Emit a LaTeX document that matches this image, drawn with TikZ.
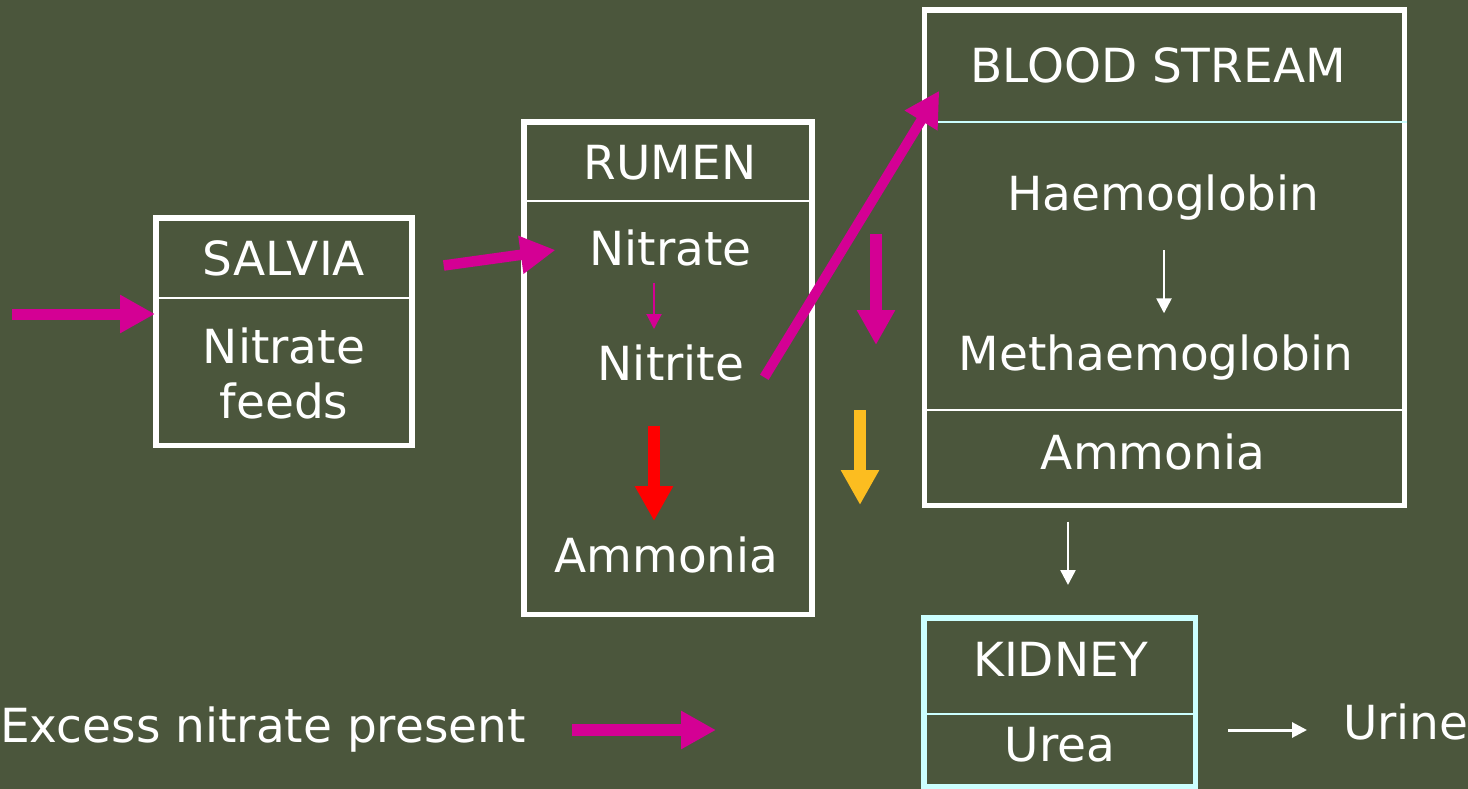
\documentclass[tikz,border=0pt]{standalone}
\usepackage{fontspec}
\setmainfont{DejaVu Sans}
\usetikzlibrary{arrows.meta}
\definecolor{bg}{RGB}{75,86,60}
\definecolor{mag}{RGB}{212,0,148}
\definecolor{yel}{RGB}{252,189,32}
\definecolor{lcyan}{RGB}{204,255,255}
\begin{document}
\begin{tikzpicture}[x=1pt,y=-1pt,
  lbl/.style={text=white,font=\fontsize{47}{56}\selectfont,inner sep=0pt,anchor=base},
  boxw/.style={draw=white,line width=5.5pt,inner sep=0pt},
  boxc/.style={draw=lcyan,line width=5.5pt,inner sep=0pt},
  divw/.style={draw=white,line width=2pt},
  divc/.style={draw=lcyan,line width=2pt},
  fat/.style={line width=11pt,-{Triangle[length=35pt,width=36pt]}},
  slim/.style={line width=2.5pt,-{Triangle[length=15pt,width=15pt]}},
]
\fill[bg] (0,0) rectangle (1468,789);
\useasboundingbox (0,0) rectangle (1468,789);

% boxes
\node[boxw,minimum width=256pt,minimum height=227.5pt] (salvia) at (284,331.75) {};
\node[boxw,minimum width=288pt,minimum height=492.5pt] (rumen) at (668,368.25) {};
\node[boxw,minimum width=480pt,minimum height=495.5pt] (blood) at (1164.5,257.75) {};
\node[boxc,minimum width=271.5pt,minimum height=168.5pt] (kidney) at (1059.75,702.25) {};

% dividers
\draw[divw] (salvia.west |- 0,298) -- (salvia.east |- 0,298);
\draw[divw] (rumen.west |- 0,201.5) -- (rumen.east |- 0,201.5);
\draw[divc] (blood.west |- 0,122) -- (blood.east |- 0,122);
\draw[divw] (blood.west |- 0,410) -- (blood.east |- 0,410);
\draw[divc] (kidney.west |- 0,714) -- (kidney.east |- 0,714);

% labels
\node[lbl] (tsalvia) at (284,275) {SALVIA};
\node[lbl] (tnitf) at (284,363) {Nitrate};
\node[lbl] (tfeeds) at (284,418) {feeds};
\node[lbl] (trumen) at (670,179.5) {RUMEN};
\node[lbl] (tnitrate) at (670.5,265.5) {Nitrate};
\node[lbl] (tnitrite) at (671,380) {Nitrite};
\node[lbl] (tamm1) at (666.5,572) {Ammonia};
\node[lbl] (tblood) at (1158,83) {BLOOD STREAM};
\node[lbl] (thaem) at (1163.5,211) {Haemoglobin};
\node[lbl] (tmeth) at (1156,370) {Methaemoglobin};
\node[lbl] (tamm2) at (1153,469) {Ammonia};
\node[lbl] (tkidney) at (1060.5,676) {KIDNEY};
\node[lbl] (turea) at (1060,761.7) {Urea};
\node[lbl,anchor=base west] (turine) at (1343,739) {Urine};
\node[lbl,anchor=base east] (texcess) at (526,742.7) {Excess nitrate present};

% arrow end points
\coordinate (inS) at (12,314);
\coordinate (inE) at (155,314);
\coordinate (s2rS) at (443.7,265.5);
\coordinate (s2rE) at (555.5,250);
\coordinate (n2nS) at (654,282.5);
\coordinate (n2nE) at (654,329);
\coordinate (redS) at (654,425.5);
\coordinate (redE) at (654,521);
\coordinate (diagS) at (764.3,377.3);
\coordinate (diagE) at (939.3,90.7);
\coordinate (mdS) at (876,234);
\coordinate (mdE) at (876,345);
\coordinate (ydS) at (860,410);
\coordinate (ydE) at (860,505);
\coordinate (hmS) at (1164,250);
\coordinate (hmE) at (1164,313.3);
\coordinate (bkS) at (1068,521.5);
\coordinate (bkE) at (1068,585);
\coordinate (kuS) at (1228,730);
\coordinate (kuE) at (1307,730);
\coordinate (lgS) at (572,730);
\coordinate (lgE) at (716,730);

% arrows
\draw[fat,mag] (inS) -- (inE);
\draw[fat,mag,line width=10.5pt] (s2rS) -- (s2rE);
\draw[slim,mag,line width=2pt] (n2nS) -- (n2nE);
\draw[fat,red,line width=12pt] (redS) -- (redE);
\draw[fat,mag,line width=10pt] (diagS) -- (diagE);
\draw[fat,mag,line width=12pt] (mdS) -- (mdE);
\draw[fat,yel,line width=12pt] (ydS) -- (ydE);
\draw[slim,white] (hmS) -- (hmE);
\draw[slim,white] (bkS) -- (bkE);
\draw[slim,white,line width=3pt] (kuS) -- (kuE);
\draw[fat,mag,line width=12pt] (lgS) -- (lgE);
\end{tikzpicture}
\end{document}
